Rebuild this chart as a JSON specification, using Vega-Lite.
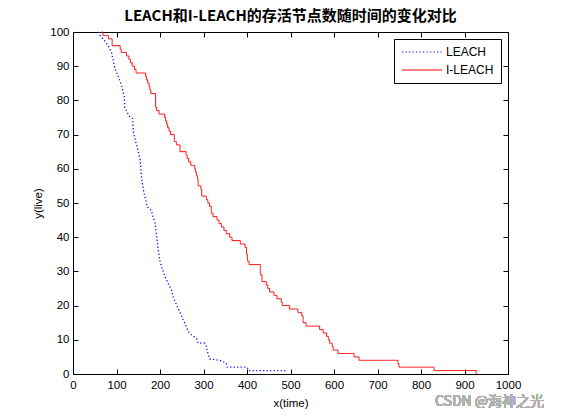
{
  "$schema": "https://vega.github.io/schema/vega-lite/v6.json",
  "width": 435,
  "height": 342,
  "autosize": {"type": "none"},
  "padding": {"left": 73, "top": 32, "right": 53, "bottom": 46},
  "background": "white",
  "title": {
    "text": "LEACH和I-LEACH的存活节点数随时间的变化对比",
    "font": "Noto Sans CJK SC",
    "fontSize": 15,
    "fontWeight": "bold",
    "color": "black",
    "anchor": "middle",
    "offset": 2
  },
  "data": {
    "values": [
      {"series": "LEACH", "x": 58, "y": 100},
      {"series": "LEACH", "x": 62, "y": 99},
      {"series": "LEACH", "x": 69, "y": 98},
      {"series": "LEACH", "x": 81, "y": 96},
      {"series": "LEACH", "x": 88.5, "y": 94},
      {"series": "LEACH", "x": 92, "y": 92},
      {"series": "LEACH", "x": 96, "y": 89.5},
      {"series": "LEACH", "x": 104, "y": 87},
      {"series": "LEACH", "x": 111.5, "y": 84.5},
      {"series": "LEACH", "x": 117.7, "y": 81},
      {"series": "LEACH", "x": 119, "y": 78},
      {"series": "LEACH", "x": 128.5, "y": 75.5},
      {"series": "LEACH", "x": 137, "y": 74.7},
      {"series": "LEACH", "x": 139, "y": 70.5},
      {"series": "LEACH", "x": 146, "y": 67},
      {"series": "LEACH", "x": 150, "y": 65},
      {"series": "LEACH", "x": 154, "y": 63},
      {"series": "LEACH", "x": 156, "y": 60},
      {"series": "LEACH", "x": 158, "y": 57},
      {"series": "LEACH", "x": 161.5, "y": 54},
      {"series": "LEACH", "x": 165, "y": 52},
      {"series": "LEACH", "x": 168, "y": 50.5},
      {"series": "LEACH", "x": 170, "y": 49},
      {"series": "LEACH", "x": 180, "y": 47.8},
      {"series": "LEACH", "x": 184, "y": 46},
      {"series": "LEACH", "x": 189, "y": 44},
      {"series": "LEACH", "x": 191.5, "y": 41.2},
      {"series": "LEACH", "x": 195, "y": 37.3},
      {"series": "LEACH", "x": 199, "y": 33.4},
      {"series": "LEACH", "x": 204.6, "y": 31},
      {"series": "LEACH", "x": 211, "y": 28.6},
      {"series": "LEACH", "x": 218.4, "y": 26.6},
      {"series": "LEACH", "x": 226, "y": 24.7},
      {"series": "LEACH", "x": 230, "y": 22.7},
      {"series": "LEACH", "x": 237.5, "y": 20.3},
      {"series": "LEACH", "x": 245, "y": 18.3},
      {"series": "LEACH", "x": 253, "y": 15.9},
      {"series": "LEACH", "x": 260.5, "y": 13.9},
      {"series": "LEACH", "x": 264.4, "y": 12.5},
      {"series": "LEACH", "x": 272, "y": 11.5},
      {"series": "LEACH", "x": 283.5, "y": 10.5},
      {"series": "LEACH", "x": 287.4, "y": 9.1},
      {"series": "LEACH", "x": 302.7, "y": 9},
      {"series": "LEACH", "x": 306.5, "y": 8.1},
      {"series": "LEACH", "x": 310, "y": 6.1},
      {"series": "LEACH", "x": 314, "y": 4.4},
      {"series": "LEACH", "x": 337, "y": 4},
      {"series": "LEACH", "x": 352.5, "y": 3.2},
      {"series": "LEACH", "x": 354.5, "y": 2},
      {"series": "LEACH", "x": 400, "y": 2},
      {"series": "LEACH", "x": 404.6, "y": 1},
      {"series": "LEACH", "x": 490, "y": 1},
      {"series": "I-LEACH", "x": 66, "y": 100},
      {"series": "I-LEACH", "x": 69, "y": 99},
      {"series": "I-LEACH", "x": 81.5, "y": 98},
      {"series": "I-LEACH", "x": 90, "y": 96},
      {"series": "I-LEACH", "x": 108.5, "y": 95},
      {"series": "I-LEACH", "x": 111, "y": 94},
      {"series": "I-LEACH", "x": 123, "y": 93},
      {"series": "I-LEACH", "x": 128.5, "y": 92},
      {"series": "I-LEACH", "x": 132, "y": 91},
      {"series": "I-LEACH", "x": 136, "y": 90},
      {"series": "I-LEACH", "x": 141.5, "y": 89},
      {"series": "I-LEACH", "x": 145, "y": 88},
      {"series": "I-LEACH", "x": 167, "y": 87},
      {"series": "I-LEACH", "x": 169, "y": 86},
      {"series": "I-LEACH", "x": 172, "y": 85},
      {"series": "I-LEACH", "x": 175, "y": 84},
      {"series": "I-LEACH", "x": 177, "y": 83},
      {"series": "I-LEACH", "x": 179, "y": 82},
      {"series": "I-LEACH", "x": 190, "y": 78},
      {"series": "I-LEACH", "x": 192, "y": 77},
      {"series": "I-LEACH", "x": 197.7, "y": 76},
      {"series": "I-LEACH", "x": 210.8, "y": 75},
      {"series": "I-LEACH", "x": 213, "y": 74},
      {"series": "I-LEACH", "x": 215.4, "y": 73},
      {"series": "I-LEACH", "x": 217.7, "y": 72},
      {"series": "I-LEACH", "x": 220.8, "y": 71},
      {"series": "I-LEACH", "x": 224.6, "y": 70},
      {"series": "I-LEACH", "x": 233, "y": 68},
      {"series": "I-LEACH", "x": 237.7, "y": 67},
      {"series": "I-LEACH", "x": 246, "y": 65},
      {"series": "I-LEACH", "x": 260, "y": 64},
      {"series": "I-LEACH", "x": 262.3, "y": 63},
      {"series": "I-LEACH", "x": 266, "y": 62},
      {"series": "I-LEACH", "x": 270.8, "y": 61},
      {"series": "I-LEACH", "x": 280, "y": 60},
      {"series": "I-LEACH", "x": 281.5, "y": 59},
      {"series": "I-LEACH", "x": 283.8, "y": 58},
      {"series": "I-LEACH", "x": 286, "y": 57},
      {"series": "I-LEACH", "x": 287.7, "y": 55},
      {"series": "I-LEACH", "x": 294, "y": 54},
      {"series": "I-LEACH", "x": 296, "y": 52},
      {"series": "I-LEACH", "x": 306.5, "y": 51},
      {"series": "I-LEACH", "x": 310, "y": 50},
      {"series": "I-LEACH", "x": 314, "y": 49},
      {"series": "I-LEACH", "x": 318, "y": 47},
      {"series": "I-LEACH", "x": 322, "y": 46},
      {"series": "I-LEACH", "x": 331, "y": 45},
      {"series": "I-LEACH", "x": 335.6, "y": 44},
      {"series": "I-LEACH", "x": 341, "y": 43},
      {"series": "I-LEACH", "x": 347, "y": 42},
      {"series": "I-LEACH", "x": 352.5, "y": 41},
      {"series": "I-LEACH", "x": 360, "y": 40},
      {"series": "I-LEACH", "x": 365.5, "y": 39},
      {"series": "I-LEACH", "x": 384.7, "y": 38},
      {"series": "I-LEACH", "x": 395.4, "y": 37},
      {"series": "I-LEACH", "x": 399, "y": 35},
      {"series": "I-LEACH", "x": 401, "y": 33},
      {"series": "I-LEACH", "x": 405, "y": 32},
      {"series": "I-LEACH", "x": 430.7, "y": 29},
      {"series": "I-LEACH", "x": 434.5, "y": 27},
      {"series": "I-LEACH", "x": 444.4, "y": 26},
      {"series": "I-LEACH", "x": 448, "y": 25},
      {"series": "I-LEACH", "x": 452, "y": 24},
      {"series": "I-LEACH", "x": 462, "y": 23},
      {"series": "I-LEACH", "x": 469, "y": 22},
      {"series": "I-LEACH", "x": 479, "y": 21},
      {"series": "I-LEACH", "x": 481, "y": 20},
      {"series": "I-LEACH", "x": 498, "y": 19},
      {"series": "I-LEACH", "x": 517, "y": 18},
      {"series": "I-LEACH", "x": 526, "y": 17},
      {"series": "I-LEACH", "x": 529, "y": 15},
      {"series": "I-LEACH", "x": 536, "y": 14},
      {"series": "I-LEACH", "x": 567, "y": 13},
      {"series": "I-LEACH", "x": 575, "y": 12},
      {"series": "I-LEACH", "x": 583, "y": 11},
      {"series": "I-LEACH", "x": 587, "y": 10},
      {"series": "I-LEACH", "x": 590, "y": 9},
      {"series": "I-LEACH", "x": 596, "y": 8},
      {"series": "I-LEACH", "x": 598, "y": 7},
      {"series": "I-LEACH", "x": 609, "y": 6},
      {"series": "I-LEACH", "x": 646, "y": 5},
      {"series": "I-LEACH", "x": 657.5, "y": 4},
      {"series": "I-LEACH", "x": 747, "y": 3},
      {"series": "I-LEACH", "x": 749.4, "y": 2},
      {"series": "I-LEACH", "x": 830, "y": 1},
      {"series": "I-LEACH", "x": 927, "y": 0}
    ]
  },
  "layer": [
    {
      "transform": [{"filter": "datum.series === 'LEACH'"}],
      "mark": {"type": "line", "interpolate": "linear", "strokeWidth": 1.3},
      "encoding": {
        "x": {
          "field": "x", "type": "quantitative",
          "scale": {"domain": [0, 1000], "nice": false},
          "axis": {
            "orient": "bottom", "title": "x(time)",
            "values": [0, 100, 200, 300, 400, 500, 600, 700, 800, 900, 1000],
            "format": "d", "labelFlush": false, "tickSize": -5,
            "labelPadding": 10, "titlePadding": 7
          }
        },
        "y": {
          "field": "y", "type": "quantitative",
          "scale": {"domain": [0, 100], "nice": false},
          "axis": {
            "orient": "left", "title": "y(live)",
            "values": [0, 10, 20, 30, 40, 50, 60, 70, 80, 90, 100],
            "format": "d", "labelFlush": false, "tickSize": -5,
            "labelPadding": 9, "titlePadding": 6
          }
        },
        "color": {
          "field": "series", "type": "nominal",
          "scale": {"domain": ["LEACH", "I-LEACH"], "range": ["#0000ff", "#ff0000"]},
          "legend": {"title": null}
        },
        "strokeDash": {
          "field": "series", "type": "nominal",
          "scale": {"domain": ["LEACH", "I-LEACH"], "range": [[1.2, 2.3], [1, 0]]},
          "legend": {"title": null}
        }
      }
    },
    {
      "transform": [{"filter": "datum.series === 'I-LEACH'"}],
      "mark": {"type": "line", "interpolate": "step-after", "strokeWidth": 1},
      "encoding": {
        "x": {"field": "x", "type": "quantitative", "axis": null},
        "y": {"field": "y", "type": "quantitative", "axis": null},
        "color": {"field": "series", "type": "nominal", "legend": {"title": null}},
        "strokeDash": {"field": "series", "type": "nominal", "legend": {"title": null}}
      }
    },
    {
      "transform": [{"filter": "datum.series === 'LEACH'"}],
      "mark": {"type": "point", "opacity": 0},
      "encoding": {
        "x": {
          "field": "x", "type": "quantitative",
          "axis": {
            "orient": "top", "title": null, "labels": false,
            "values": [0, 100, 200, 300, 400, 500, 600, 700, 800, 900, 1000],
            "tickSize": -5
          }
        },
        "y": {
          "field": "y", "type": "quantitative",
          "axis": {
            "orient": "right", "title": null, "labels": false,
            "values": [0, 10, 20, 30, 40, 50, 60, 70, 80, 90, 100],
            "tickSize": -5
          }
        }
      }
    },
    {
      "mark": {
        "type": "text", "text": "CSDN @海神之光", "align": "right",
        "baseline": "middle", "font": "Noto Sans CJK SC", "fontSize": 14,
        "color": "#b0b0b0"
      },
      "encoding": {
        "x": {"datum": 1083, "type": "quantitative", "axis": null},
        "y": {"datum": -8.2, "type": "quantitative", "axis": null}
      }
    }
  ],
  "resolve": {"axis": {"x": "independent", "y": "independent"}},
  "config": {
    "view": {"stroke": null},
    "axis": {
      "grid": false,
      "domainColor": "black",
      "tickColor": "black",
      "labelColor": "black",
      "titleColor": "black",
      "labelFont": "Liberation Sans",
      "labelFontSize": 11.5,
      "titleFont": "Liberation Sans",
      "titleFontSize": 11.5,
      "titleFontWeight": "normal"
    },
    "legend": {
      "orient": "top-right",
      "offset": 7,
      "strokeColor": "black",
      "fillColor": "white",
      "padding": 7,
      "cornerRadius": 0,
      "labelFont": "Liberation Sans",
      "labelFontSize": 12,
      "labelColor": "black",
      "labelOffset": 33,
      "symbolType": "M-1,0H7",
      "symbolSize": 100,
      "symbolStrokeWidth": 1,
      "rowPadding": 6
    }
  }
}
